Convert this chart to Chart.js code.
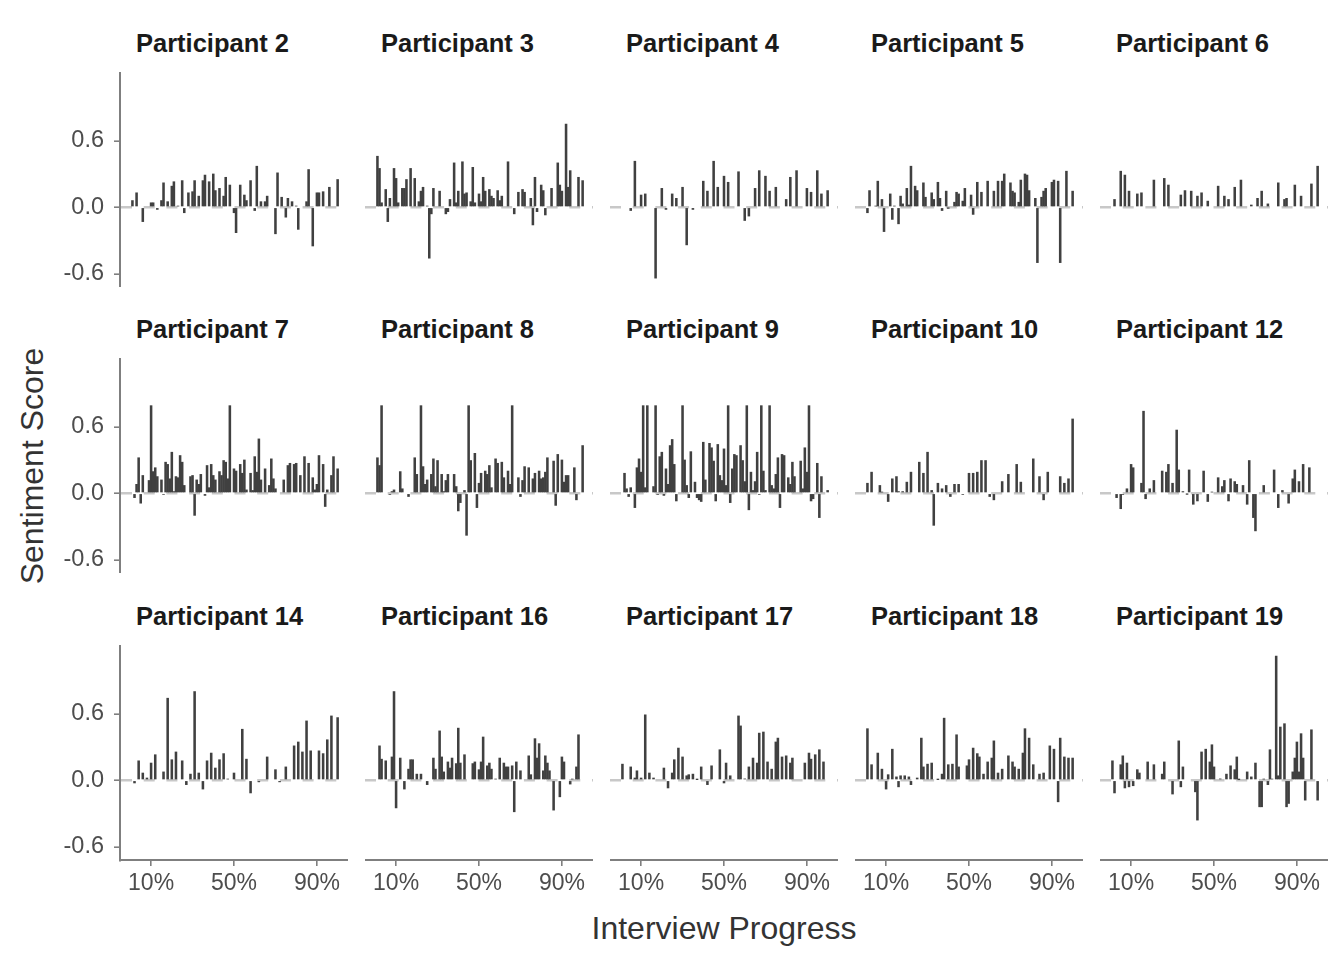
<!DOCTYPE html>
<html>
<head>
<meta charset="utf-8">
<title>Sentiment by interview progress</title>
<script src="https://cdn.jsdelivr.net/npm/chart.js@4.4.1/dist/chart.umd.min.js"></script>
<style>
  html, body { margin: 0; padding: 0; background: #fff; }
  #page { position: relative; width: 1344px; height: 960px; overflow: hidden; font-family: "Liberation Sans", Arial, sans-serif; }
  #page canvas { position: absolute; }
  .strip { position: absolute; font-weight: bold; font-size: 25.5px; line-height: 26px; color: #1a1a1a; white-space: nowrap; }
  .axis-title { position: absolute; font-size: 32px; line-height: 32px; color: #333; white-space: nowrap; transform: translate(-50%, -50%); }
</style>
</head>
<body>
<div id="page">
  <div class="axis-title" style="left:32px; top:466px; transform: translate(-50%, -50%) rotate(-90deg);">Sentiment Score</div>
  <div class="axis-title" style="left:724px; top:928px;">Interview Progress</div>
</div>
<script>
// panel titles
const participants = [
  "Participant 2", "Participant 3", "Participant 4", "Participant 5", "Participant 6",
  "Participant 7", "Participant 8", "Participant 9", "Participant 10", "Participant 12",
  "Participant 14", "Participant 16", "Participant 17", "Participant 18", "Participant 19"
];

// [interview progress %, sentiment score]
const p2 = [[1,0.06],[3,0.13],[6,-0.13],[10,0.04],[11,0.04],[13,-0.02],[15,0.06],[16,0.22],[18,0.05],[20,0.19],[21,0.23],[23,0.01],[25,0.24],[26,-0.05],[28,0.13],[30,0.14],[31,0.24],[33,0.10],[35,0.24],[36,0.29],[38,0.23],[40,0.30],[41,0.15],[43,0.17],[45,0.10],[46,0.27],[48,0.20],[50,-0.05],[51,-0.23],[53,0.20],[55,0.11],[56,0.06],[58,0.24],[60,-0.03],[61,0.37],[63,0.05],[65,0.05],[66,0.10],[70,-0.24],[71,0.31],[73,0.09],[75,-0.09],[76,0.08],[78,0.05],[80,0.01],[81,-0.20],[85,0.05],[86,0.34],[88,-0.35],[90,0.13],[91,0.13],[93,0.14],[96,0.18],[100,0.25]];
const p3 = [[1,0.46],[2,0.35],[3,0.04],[5,0.16],[6,-0.13],[7,0.08],[9,0.35],[10,0.26],[11,0.04],[13,0.17],[14,0.17],[15,0.25],[17,0.35],[19,0.26],[21,0.05],[22,0.145],[23,0.18],[25,0.01],[26,-0.46],[27,-0.06],[28,0.17],[31,0.145],[34,-0.06],[35,-0.04],[36,0.07],[38,0.40],[39,0.04],[40,0.145],[42,0.41],[43,0.12],[44,0.13],[46,0.05],[47,0.36],[48,0.04],[50,0.12],[51,0.05],[52,0.27],[53,0.145],[55,0.16],[56,0.10],[57,0.08],[59,0.15],[60,0.06],[61,0.10],[64,0.41],[67,-0.06],[69,0.135],[71,0.16],[72,0.135],[75,0.08],[76,-0.16],[77,0.27],[78,-0.04],[80,0.20],[81,0.15],[82,-0.07],[85,0.17],[88,0.40],[89,0.20],[90,0.145],[92,0.75],[93,0.18],[94,0.33],[98,0.27],[100,0.24]];
const p4 = [[5,-0.03],[7,0.415],[10,0.11],[12,0.12],[17,-0.64],[20,0.17],[22,-0.02],[25,0.12],[27,0.08],[30,0.18],[32,-0.34],[35,-0.02],[40,0.235],[42,0.145],[45,0.415],[47,0.18],[50,0.28],[52,0.225],[57,0.32],[60,-0.12],[62,-0.08],[65,0.17],[67,0.33],[70,0.28],[72,0.145],[75,0.18],[80,0.07],[82,0.27],[85,0.33],[90,0.17],[92,0.135],[95,0.33],[97,0.12],[100,0.15]];
const p5 = [[1,-0.05],[2,0.15],[5,0.01],[6,0.235],[8,0.07],[9,-0.22],[12,0.12],[13,-0.11],[14,0.01],[16,-0.15],[17,0.10],[18,0.03],[20,0.17],[21,0.02],[22,0.37],[24,0.19],[25,0.15],[28,0.22],[29,0.09],[32,0.13],[33,0.07],[35,0.225],[36,0.08],[37,-0.03],[39,0.145],[40,-0.005],[43,0.045],[44,0.135],[45,0.12],[47,0.055],[48,0.17],[51,0.11],[52,-0.065],[54,0.225],[56,0.135],[59,0.235],[62,0.145],[64,0.235],[66,0.235],[67,0.30],[70,0.22],[71,0.145],[72,0.13],[74,0.045],[75,0.245],[77,0.30],[78,0.29],[79,0.15],[82,0.08],[83,-0.50],[85,0.09],[86,0.145],[87,0.17],[90,0.225],[91,0.245],[93,0.235],[94,-0.50],[97,0.325],[100,0.145]];
const p6 = [[2,0.07],[5,0.325],[7,0.29],[9,0.145],[13,0.12],[15,0.13],[21,0.245],[26,0.26],[28,0.20],[34,0.11],[36,0.15],[39,0.145],[42,0.10],[44,0.13],[47,0.055],[52,0.19],[55,0.10],[57,0.07],[60,0.18],[63,0.245],[68,0.02],[71,0.08],[73,0.145],[76,0.03],[81,0.22],[84,0.07],[85,0.08],[89,0.20],[92,0.10],[97,0.21],[100,0.37]];
const p7 = [[2,-0.04],[3,0.08],[4,0.32],[5,-0.09],[6,0.16],[9,0.115],[10,0.79],[11,0.195],[12,0.23],[13,0.15],[15,0.12],[16,-0.01],[17,0.28],[18,0.26],[19,0.13],[20,0.37],[21,0.015],[22,0.15],[23,0.14],[24,0.34],[25,0.28],[26,0.07],[29,0.15],[30,0.16],[31,-0.20],[32,0.12],[33,0.08],[34,0.17],[36,-0.02],[37,0.25],[38,0.05],[39,0.26],[40,0.16],[41,0.12],[43,0.195],[44,0.16],[45,0.295],[46,0.28],[47,0.13],[48,0.79],[50,0.22],[51,0.20],[53,0.26],[54,0.18],[55,0.30],[56,0.03],[58,0.18],[59,0.025],[60,0.33],[61,0.19],[62,0.49],[63,0.12],[65,0.22],[67,0.07],[68,0.31],[69,0.13],[70,0.04],[74,0.12],[76,0.25],[77,0.27],[79,0.26],[80,0.27],[82,0.16],[84,0.33],[86,0.27],[88,0.14],[89,0.03],[90,0.08],[91,0.34],[93,0.26],[94,-0.12],[95,0.03],[97,0.16],[98,0.33],[100,0.22]];
const p8 = [[1,0.32],[2,0.25],[3,0.79],[7,-0.01],[8,0.015],[9,0.03],[12,0.195],[13,0.04],[16,-0.03],[19,0.32],[20,0.17],[22,0.79],[23,0.24],[24,0.08],[25,0.12],[27,0.17],[28,0.31],[29,0.06],[30,0.295],[32,0.17],[33,0.015],[34,0.115],[35,0.17],[38,0.17],[39,0.06],[40,-0.16],[41,-0.085],[43,0.025],[44,-0.38],[45,0.79],[46,0.295],[48,0.36],[49,-0.13],[50,0.09],[51,0.18],[53,0.20],[54,0.17],[55,0.25],[56,0.05],[58,0.31],[59,0.27],[61,0.28],[62,0.14],[64,0.20],[65,0.08],[66,0.79],[69,0.14],[70,-0.03],[71,0.115],[72,0.24],[74,0.23],[76,0.13],[77,0.18],[79,0.20],[80,0.13],[81,0.14],[82,0.19],[83,0.32],[86,0.29],[87,-0.11],[88,0.35],[90,0.30],[91,0.10],[92,0.16],[93,0.16],[96,0.23],[97,-0.06],[100,0.43]];
const p9 = [[2,0.18],[3,0.04],[4,-0.03],[5,0.05],[7,-0.13],[8,0.23],[9,0.31],[10,0.19],[11,0.79],[12,0.05],[13,0.79],[16,0.06],[17,0.79],[18,-0.01],[19,0.33],[20,0.37],[21,-0.02],[22,0.22],[23,0.08],[24,0.43],[25,0.485],[26,0.26],[27,-0.07],[30,0.79],[31,0.30],[32,0.07],[33,-0.04],[34,0.375],[36,0.10],[37,-0.04],[38,-0.06],[39,-0.075],[40,0.46],[41,0.12],[43,0.45],[44,0.41],[45,0.29],[46,-0.07],[47,0.44],[48,0.16],[49,0.115],[50,0.40],[51,0.07],[52,0.79],[53,-0.085],[54,0.22],[55,0.35],[56,0.34],[58,0.43],[59,0.295],[60,0.105],[61,0.79],[62,-0.15],[63,0.19],[64,0.025],[65,0.105],[66,0.37],[67,-0.01],[68,0.79],[69,0.20],[70,0.025],[72,0.79],[73,0.07],[74,0.04],[75,0.17],[76,0.32],[77,-0.13],[78,0.35],[79,0.34],[81,0.14],[82,0.08],[83,0.28],[84,0.15],[87,0.29],[88,0.04],[89,0.41],[90,0.19],[91,0.79],[92,-0.07],[93,-0.05],[95,0.27],[96,-0.22],[97,0.15],[100,0.025]];
const p10 = [[1,0.09],[3,0.19],[7,0.07],[8,0.01],[11,-0.075],[13,0.13],[15,0.15],[16,0.015],[18,0.015],[20,0.10],[22,0.19],[26,0.28],[28,0.18],[30,0.37],[32,0.025],[33,-0.29],[35,0.09],[37,0.04],[39,0.07],[41,-0.03],[43,0.08],[45,0.08],[47,-0.01],[50,0.18],[52,0.18],[54,0.19],[56,0.295],[58,0.295],[60,-0.03],[62,-0.06],[66,0.105],[69,0.17],[73,0.26],[75,0.10],[81,0.31],[84,0.15],[86,-0.06],[88,0.19],[94,0.15],[96,0.09],[98,0.13],[100,0.67]];
const p12 = [[3,-0.04],[5,-0.14],[6,-0.01],[8,0.04],[10,0.26],[11,0.23],[15,0.09],[16,0.74],[17,-0.05],[19,0.04],[21,0.115],[25,0.20],[27,0.19],[28,0.26],[30,0.09],[32,0.57],[33,0.21],[35,0.015],[37,-0.005],[38,0.21],[40,-0.10],[42,-0.07],[45,0.20],[47,-0.075],[49,0.01],[52,0.14],[54,0.06],[55,0.115],[57,-0.07],[58,0.13],[60,0.105],[61,0.08],[64,0.07],[66,-0.10],[67,0.295],[69,-0.22],[70,-0.34],[74,0.07],[79,0.21],[81,-0.13],[83,0.025],[86,-0.09],[88,0.13],[89,0.21],[91,0.105],[93,0.26],[96,0.23]];
const p14 = [[2,-0.025],[4,0.175],[6,0.065],[8,0.02],[10,0.155],[12,0.23],[16,0.075],[18,0.74],[20,0.185],[22,0.255],[25,0.175],[27,-0.04],[29,0.055],[31,0.80],[33,0.065],[35,-0.08],[37,0.175],[39,0.245],[41,0.11],[43,0.185],[45,0.24],[47,0.01],[50,0.065],[54,0.46],[56,0.19],[58,-0.115],[62,-0.015],[66,0.21],[70,0.095],[72,-0.015],[75,0.12],[79,0.31],[81,0.345],[83,0.255],[85,0.535],[87,0.265],[91,0.265],[93,0.24],[95,0.365],[97,0.58],[100,0.565]];
const p16 = [[2,0.31],[3,0.19],[5,0.175],[8,0.21],[9,0.80],[10,-0.25],[12,0.20],[14,-0.08],[16,0.10],[17,0.185],[18,0.185],[20,0.055],[22,0.055],[25,-0.04],[28,0.20],[29,0.10],[31,0.445],[32,0.21],[33,0.075],[35,0.165],[36,0.11],[37,0.20],[39,0.15],[40,0.47],[41,0.155],[43,0.23],[47,0.15],[48,0.165],[50,0.095],[51,0.165],[52,0.39],[54,0.13],[55,0.155],[56,0.10],[58,0.01],[60,0.20],[62,0.155],[63,0.12],[64,0.12],[66,0.13],[67,-0.285],[68,0.165],[70,0.085],[74,0.22],[75,0.05],[77,0.375],[78,0.20],[79,0.33],[81,0.085],[82,0.22],[83,0.155],[84,0.085],[86,-0.27],[89,-0.15],[90,0.21],[91,0.165],[94,-0.035],[95,0.01],[97,0.12],[98,0.41]];
const p17 = [[1,0.145],[5,0.12],[7,0.02],[8,0.085],[10,0.02],[12,0.59],[14,0.065],[16,0.02],[21,0.11],[23,-0.07],[25,0.065],[26,0.185],[28,0.29],[30,0.21],[32,0.04],[33,0.05],[35,0.055],[37,0.005],[39,0.12],[42,-0.04],[44,0.13],[48,0.275],[50,-0.025],[51,0.155],[53,0.04],[57,0.58],[58,0.49],[60,0.012],[62,0.12],[64,0.20],[66,0.155],[67,0.425],[69,0.435],[71,0.165],[73,0.10],[75,0.345],[76,0.38],[78,0.21],[80,0.22],[82,0.155],[83,0.20],[89,0.155],[91,0.245],[92,0.19],[94,0.23],[96,0.275],[98,0.165]];
const p18 = [[1,0.465],[3,0.14],[6,0.245],[8,0.10],[10,-0.08],[11,0.05],[13,0.28],[15,0.03],[16,-0.06],[17,0.04],[19,0.04],[21,0.03],[22,-0.04],[25,0.02],[27,0.38],[28,0.12],[30,0.145],[32,0.155],[35,0.005],[37,0.055],[38,0.56],[40,0.14],[42,0.145],[44,0.41],[45,0.12],[49,0.13],[50,0.185],[52,0.29],[54,0.24],[55,0.21],[57,0.055],[59,0.165],[61,0.20],[62,0.355],[64,0.065],[66,0.10],[69,0.22],[71,0.165],[72,0.12],[74,0.10],[76,0.245],[77,0.465],[79,0.38],[81,0.14],[84,0.055],[86,0.065],[89,0.31],[91,0.28],[93,-0.195],[94,0.38],[96,0.21],[98,0.20],[100,0.20]];
const p19 = [[1,0.175],[2,-0.115],[5,0.14],[6,0.22],[7,-0.07],[8,0.155],[9,-0.06],[11,-0.05],[13,0.095],[14,0.065],[18,0.165],[21,0.14],[25,0.055],[26,0.165],[30,-0.125],[33,0.355],[34,-0.06],[35,0.12],[41,-0.105],[42,-0.36],[44,0.255],[46,0.28],[48,0.165],[49,0.32],[50,0.12],[53,0.012],[56,0.055],[58,0.13],[60,0.095],[61,0.21],[62,0.005],[66,0.075],[68,0.03],[70,0.155],[72,-0.24],[73,-0.24],[74,0.01],[76,-0.04],[77,0.275],[78,0.01],[80,1.12],[81,0.04],[82,0.48],[84,0.51],[85,-0.24],[86,-0.21],[88,0.075],[89,0.20],[90,0.345],[91,0.075],[92,0.42],[93,0.20],[94,-0.18],[97,0.455],[100,-0.18]];

const panelData = [p2, p3, p4, p5, p6, p7, p8, p9, p10, p12, p14, p16, p17, p18, p19];

const xTicks = [10, 50, 90];
const yTicks = [-0.6, 0, 0.6];

// ------------------------------
// LAYOUT
// ------------------------------
const colLeft = [120, 365, 610, 855, 1100];
const rowTop = [72, 358, 645];
const panelW = 228;
const panelH = 215;
const xAxisH = 60;

const FONT = '"Liberation Sans", Arial, sans-serif';
const axisCol = "#7f7f7f";
const zeroCol = "#c8c8c8";
const page = document.getElementById("page");

panelData.forEach((pts, i) => {
  const r = Math.floor(i / 5);
  const c = i % 5;
  const showX = r === 2;
  const showY = c === 0;

  const left = showY ? 0 : colLeft[c];
  const w = showY ? colLeft[0] + panelW : panelW;
  const h = showX ? panelH + xAxisH : panelH;

  const cv = document.createElement("canvas");
  cv.width = w;
  cv.height = h;
  cv.style.left = left + "px";
  cv.style.top = rowTop[r] + "px";
  cv.style.width = w + "px";
  cv.style.height = h + "px";
  page.appendChild(cv);

  const strip = document.createElement("div");
  strip.className = "strip";
  strip.textContent = participants[i];
  strip.style.left = (colLeft[c] + 16) + "px";
  strip.style.top = (rowTop[r] - 42) + "px";
  page.appendChild(strip);

  new Chart(cv, {
    type: "bar",
    data: {
      datasets: [
        {
          data: pts.map(([x, y]) => ({ x: x, y: y })),
          backgroundColor: "#404040",
          barThickness: 1.9
        }
      ]
    },
    options: {
      responsive: false,
      animation: false,
      layout: { padding: 0, autoPadding: false },
      plugins: { legend: { display: false }, tooltip: { enabled: false } },
      scales: {
        x: {
          type: "linear",
          min: -5,
          max: 105,
          offset: false,
          display: showX,
          afterBuildTicks: (s) => { s.ticks = xTicks.map((v) => ({ value: v })); },
          afterFit: (s) => {
            if (showX) s.height = xAxisH;
            s.paddingLeft = 0;
            s.paddingRight = 0;
          },
          grid: { offset: false, drawOnChartArea: false, drawTicks: true, tickLength: 6, color: axisCol, lineWidth: 1.6 },
          border: { display: true, color: axisCol, width: 2 },
          ticks: {
            callback: (v) => v + "%",
            color: "#4d4d4d",
            font: { family: FONT, size: 23 },
            padding: 4,
            maxRotation: 0,
            autoSkip: false
          }
        },
        y: {
          type: "linear",
          min: -0.72,
          max: 1.22,
          display: true,
          afterBuildTicks: (s) => { s.ticks = yTicks.map((v) => ({ value: v })); },
          afterFit: (s) => {
            s.width = showY ? colLeft[0] : 0;
            s.paddingTop = 0;
            s.paddingBottom = 0;
          },
          // only the 0 grid line is drawn: light grey dashed reference line
          grid: {
            offset: false,
            drawOnChartArea: true,
            drawTicks: showY,
            tickLength: 6,
            color: (ctx) => (ctx.tick && ctx.tick.value === 0 ? zeroCol : "rgba(0,0,0,0)"),
            lineWidth: 2.4,
            tickColor: axisCol,
            tickWidth: 1.6
          },
          border: { display: showY, color: axisCol, width: 2, dash: [11, 11.7] },
          ticks: {
            display: showY,
            callback: (v) => v.toFixed(1),
            color: "#4d4d4d",
            font: { family: FONT, size: 23.5 },
            padding: 10
          }
        }
      }
    }
  });
});
</script>
</body>
</html>
